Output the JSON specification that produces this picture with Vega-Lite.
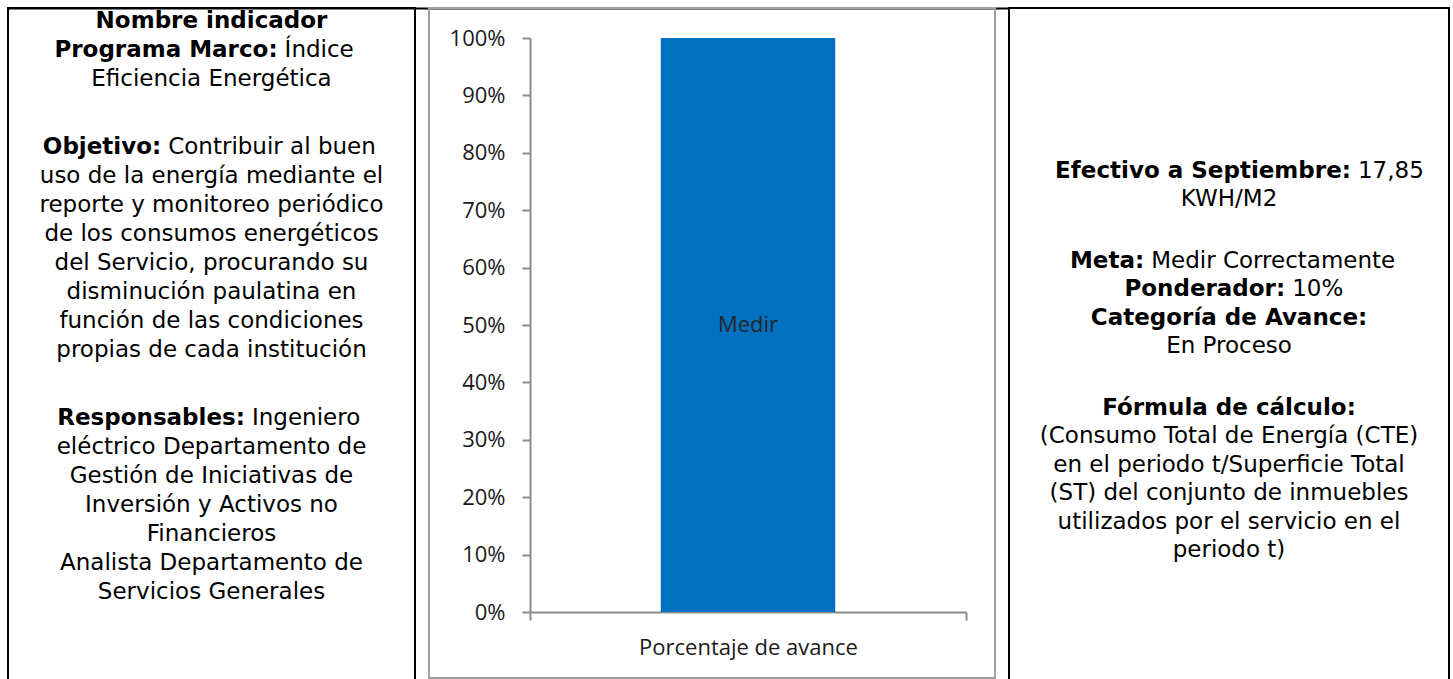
{
  "$schema": "https://vega.github.io/schema/vega-lite/v6.json",
  "background": "white",
  "padding": {"left": 7, "top": 7, "right": 0, "bottom": 0},
  "bounds": "flush",
  "spacing": 14,
  "config": {
    "view": {"stroke": "black", "strokeWidth": 2},
    "font": "DejaVu Sans",
    "text": {"font": "DejaVu Sans", "fontSize": 23, "baseline": "middle", "color": "black"}
  },
  "datasets": {
    "izquierda": [
      {"linea": 0, "parrafo": 0, "parte": 0, "tipo": "etiqueta", "texto": "Nombre indicador"},
      {"linea": 1, "parrafo": 0, "parte": 1, "tipo": "etiqueta", "texto": "Programa Marco:"},
      {"linea": 1, "parrafo": 0, "parte": 2, "tipo": "valor", "texto": "Índice"},
      {"linea": 2, "parrafo": 0, "parte": 0, "tipo": "valor", "texto": "Eficiencia Energética"},
      {"linea": 3, "parrafo": 1, "parte": 1, "tipo": "etiqueta", "texto": "Objetivo:"},
      {"linea": 3, "parrafo": 1, "parte": 2, "tipo": "valor", "texto": "Contribuir al buen"},
      {"linea": 4, "parrafo": 1, "parte": 0, "tipo": "valor", "texto": "uso de la energía mediante el"},
      {"linea": 5, "parrafo": 1, "parte": 0, "tipo": "valor", "texto": "reporte y monitoreo periódico"},
      {"linea": 6, "parrafo": 1, "parte": 0, "tipo": "valor", "texto": "de los consumos energéticos"},
      {"linea": 7, "parrafo": 1, "parte": 0, "tipo": "valor", "texto": "del Servicio, procurando su"},
      {"linea": 8, "parrafo": 1, "parte": 0, "tipo": "valor", "texto": "disminución paulatina en"},
      {"linea": 9, "parrafo": 1, "parte": 0, "tipo": "valor", "texto": "función de las condiciones"},
      {"linea": 10, "parrafo": 1, "parte": 0, "tipo": "valor", "texto": "propias de cada institución"},
      {"linea": 11, "parrafo": 2, "parte": 1, "tipo": "etiqueta", "texto": "Responsables:"},
      {"linea": 11, "parrafo": 2, "parte": 2, "tipo": "valor", "texto": "Ingeniero"},
      {"linea": 12, "parrafo": 2, "parte": 0, "tipo": "valor", "texto": "eléctrico Departamento de"},
      {"linea": 13, "parrafo": 2, "parte": 0, "tipo": "valor", "texto": "Gestión de Iniciativas de"},
      {"linea": 14, "parrafo": 2, "parte": 0, "tipo": "valor", "texto": "Inversión y Activos no"},
      {"linea": 15, "parrafo": 2, "parte": 0, "tipo": "valor", "texto": "Financieros"},
      {"linea": 16, "parrafo": 2, "parte": 0, "tipo": "valor", "texto": "Analista Departamento de"},
      {"linea": 17, "parrafo": 2, "parte": 0, "tipo": "valor", "texto": "Servicios Generales"}
    ],
    "avance": [
      {"serie": "Porcentaje de avance", "avance": 1, "etiqueta": "Medir"}
    ],
    "derecha": [
      {"linea": 0, "parrafo": 0, "parte": 1, "tipo": "etiqueta", "texto": "Efectivo a Septiembre:"},
      {"linea": 0, "parrafo": 0, "parte": 2, "tipo": "valor", "texto": "17,85"},
      {"linea": 1, "parrafo": 0, "parte": 0, "tipo": "valor", "texto": "KWH/M2"},
      {"linea": 2, "parrafo": 1, "parte": 1, "tipo": "etiqueta", "texto": "Meta:"},
      {"linea": 2, "parrafo": 1, "parte": 2, "tipo": "valor", "texto": "Medir Correctamente"},
      {"linea": 3, "parrafo": 1, "parte": 1, "tipo": "etiqueta", "texto": "Ponderador:"},
      {"linea": 3, "parrafo": 1, "parte": 2, "tipo": "valor", "texto": "10%"},
      {"linea": 4, "parrafo": 1, "parte": 0, "tipo": "etiqueta", "texto": "Categoría de Avance:"},
      {"linea": 5, "parrafo": 1, "parte": 0, "tipo": "valor", "texto": "En Proceso"},
      {"linea": 6, "parrafo": 2, "parte": 0, "tipo": "etiqueta", "texto": "Fórmula de cálculo:"},
      {"linea": 7, "parrafo": 2, "parte": 0, "tipo": "valor", "texto": "(Consumo Total de Energía (CTE)"},
      {"linea": 8, "parrafo": 2, "parte": 0, "tipo": "valor", "texto": "en el periodo t/Superficie Total"},
      {"linea": 9, "parrafo": 2, "parte": 0, "tipo": "valor", "texto": "(ST) del conjunto de inmuebles"},
      {"linea": 10, "parrafo": 2, "parte": 0, "tipo": "valor", "texto": "utilizados por el servicio en el"},
      {"linea": 11, "parrafo": 2, "parte": 0, "tipo": "valor", "texto": "periodo t)"}
    ]
  },
  "resolve": {"scale": {"x": "independent", "y": "independent"}},
  "hconcat": [
    {
      "width": 407,
      "height": 673,
      "data": {"name": "izquierda"},
      "transform": [
        {"calculate": "length(datum.texto) * (datum.tipo === 'etiqueta' ? 14.2 : 12.3)", "as": "ancho"},
        {"calculate": "datum.parte === 1 ? datum.ancho : 0", "as": "ancho1"},
        {"joinaggregate": [{"op": "sum", "field": "ancho", "as": "suma"}, {"op": "sum", "field": "ancho1", "as": "suma1"}], "groupby": ["linea"]},
        {"calculate": "-(datum.suma + 7) / 2 + datum.suma1 + 3.5", "as": "corte"},
        {"calculate": "datum.parte === 1 ? datum.corte - 3.5 : datum.parte === 2 ? datum.corte + 3.5 : 0", "as": "cx"},
        {"calculate": "datum.linea + datum.parrafo * 1.35", "as": "pos"}
      ],
      "encoding": {
        "x": {
          "field": "cx", "type": "quantitative",
          "scale": {"domain": [-203.5, 797.5], "range": [0, 1001], "nice": false, "zero": false},
          "axis": {"orient": "top", "domainColor": "black", "domainWidth": 2, "ticks": false, "labels": false, "grid": false, "title": null}
        },
        "y": {
          "field": "pos", "type": "quantitative",
          "scale": {"domain": [-0.448, 22.759], "reverse": true, "nice": false, "zero": false},
          "axis": null
        },
        "text": {"field": "texto", "type": "nominal"}
      },
      "layer": [
        {
          "transform": [{"filter": "datum.tipo === 'etiqueta' && datum.parte === 0"}],
          "mark": {"type": "text", "fontWeight": "bold", "align": "center"}
        },
        {
          "transform": [{"filter": "datum.tipo === 'etiqueta' && datum.parte === 1"}],
          "mark": {"type": "text", "fontWeight": "bold", "align": "right"}
        },
        {
          "transform": [{"filter": "datum.tipo === 'valor' && datum.parte === 0"}],
          "mark": {"type": "text", "align": "center"}
        },
        {
          "transform": [{"filter": "datum.tipo === 'valor' && datum.parte === 2"}],
          "mark": {"type": "text", "align": "left"}
        }
      ]
    },
    {
      "width": 566,
      "height": 670,
      "view": {"stroke": "#a0a0a0", "strokeWidth": 2},
      "data": {"name": "avance"},
      "encoding": {
        "x": {
          "field": "serie", "type": "nominal",
          "scale": {"range": [101, 537], "paddingInner": 0, "paddingOuter": 0},
          "axis": {
            "orient": "bottom", "offset": -66, "title": null, "labelAngle": 0, "labelLimit": 0,
            "labelFont": "Open Sans", "labelFontSize": 22, "labelColor": "#1a1a1a", "labelPadding": 17,
            "domainColor": "#8c8c8c", "domainWidth": 2, "tickColor": "#8c8c8c", "tickWidth": 2, "tickSize": 8,
            "tickBand": "extent", "grid": false
          }
        }
      },
      "layer": [
        {
          "mark": {"type": "bar", "color": "#0070C0", "width": {"band": 0.4}},
          "encoding": {
            "y": {
              "field": "avance", "type": "quantitative",
              "scale": {"domain": [0, 1], "range": [604, 30], "nice": false},
              "axis": {
                "orient": "left", "offset": -101, "title": null, "format": ".0%",
                "values": [0, 0.1, 0.2, 0.3, 0.4, 0.5, 0.6, 0.7, 0.8, 0.9, 1],
                "labelFont": "Open Sans", "labelFontSize": 22, "labelColor": "#1a1a1a", "labelPadding": 17,
                "domainColor": "#8c8c8c", "domainWidth": 2, "tickColor": "#8c8c8c", "tickWidth": 2, "tickSize": 8,
                "grid": false
              }
            }
          }
        },
        {
          "transform": [{"calculate": "datum.avance / 2", "as": "medio"}],
          "mark": {"type": "text", "font": "Open Sans", "fontSize": 22, "color": "#262626", "align": "center", "baseline": "middle"},
          "encoding": {
            "y": {"field": "medio", "type": "quantitative"},
            "text": {"field": "etiqueta", "type": "nominal"}
          }
        }
      ]
    },
    {
      "width": 440,
      "height": 673,
      "data": {"name": "derecha"},
      "transform": [
        {"calculate": "length(datum.texto) * (datum.tipo === 'etiqueta' ? 14.2 : 12.3)", "as": "ancho"},
        {"calculate": "datum.parte === 1 ? datum.ancho : 0", "as": "ancho1"},
        {"joinaggregate": [{"op": "sum", "field": "ancho", "as": "suma"}, {"op": "sum", "field": "ancho1", "as": "suma1"}], "groupby": ["linea"]},
        {"calculate": "-(datum.suma + 7) / 2 + datum.suma1 + 3.5", "as": "corte"},
        {"calculate": "datum.parte === 1 ? datum.corte - 3.5 : datum.parte === 2 ? datum.corte + 3.5 : 0", "as": "cx"},
        {"calculate": "datum.linea + datum.parrafo * 1.15", "as": "pos"}
      ],
      "encoding": {
        "x": {
          "field": "cx", "type": "quantitative",
          "scale": {"domain": [-220, 220], "nice": false, "zero": false},
          "axis": null
        },
        "y": {
          "field": "pos", "type": "quantitative",
          "scale": {"domain": [-5.719, 17.895], "reverse": true, "nice": false, "zero": false},
          "axis": null
        },
        "text": {"field": "texto", "type": "nominal"}
      },
      "layer": [
        {
          "transform": [{"filter": "datum.tipo === 'etiqueta' && datum.parte === 0"}],
          "mark": {"type": "text", "fontWeight": "bold", "align": "center"}
        },
        {
          "transform": [{"filter": "datum.tipo === 'etiqueta' && datum.parte === 1"}],
          "mark": {"type": "text", "fontWeight": "bold", "align": "right"}
        },
        {
          "transform": [{"filter": "datum.tipo === 'valor' && datum.parte === 0"}],
          "mark": {"type": "text", "align": "center"}
        },
        {
          "transform": [{"filter": "datum.tipo === 'valor' && datum.parte === 2"}],
          "mark": {"type": "text", "align": "left"}
        }
      ]
    }
  ]
}
